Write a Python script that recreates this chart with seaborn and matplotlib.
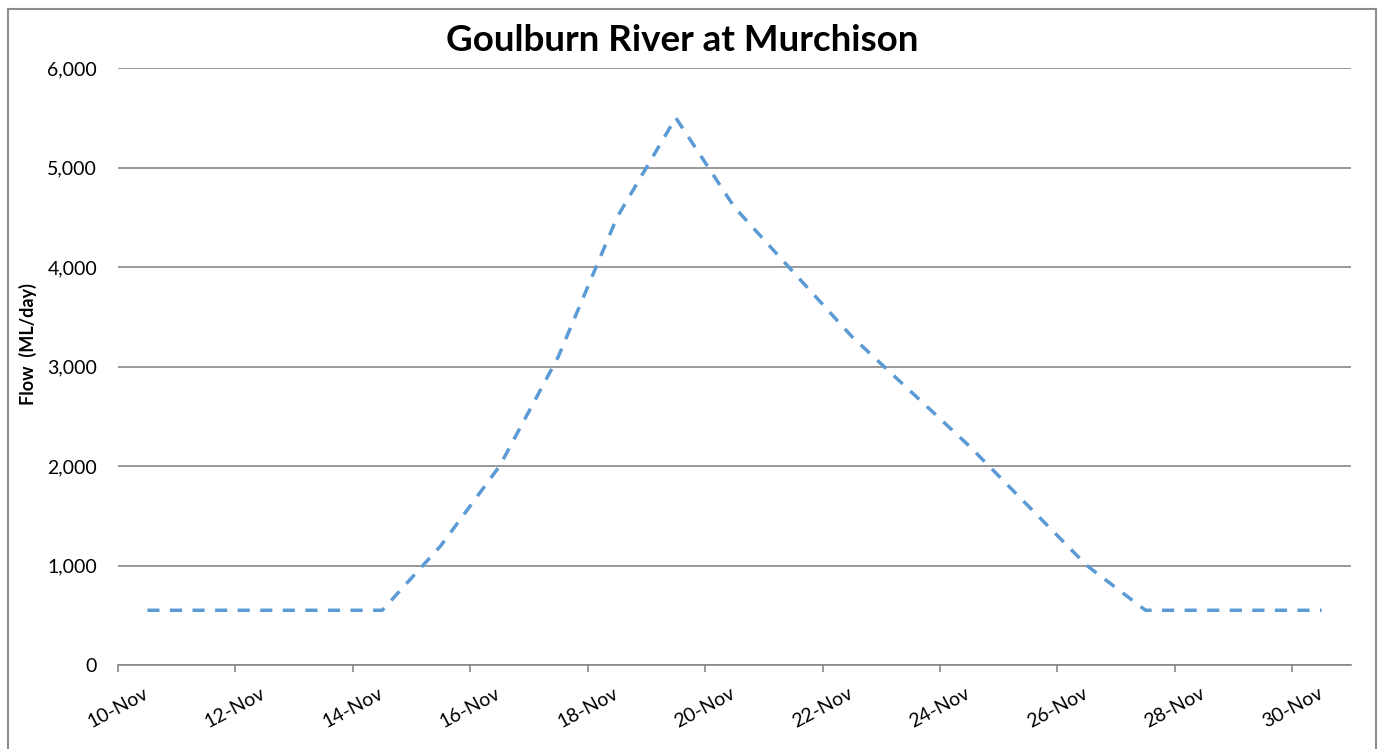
import pandas as pd
import matplotlib
matplotlib.use("Agg")
import matplotlib.pyplot as plt
import matplotlib.dates as mdates
from matplotlib.patches import Rectangle
import seaborn as sns

# daily flow, Goulburn River at Murchison (Nov)
days = list(range(10, 31))
flows = [550, 550, 550, 550, 550, 1200, 2000, 3100, 4500, 5500, 4600,
         3950, 3300, 2750, 2200, 1600, 1000, 550, 550, 550, 550]
title = "Goulburn River at Murchison"
ylabel = "Flow  (ML/day)"
yticks = [0, 1000, 2000, 3000, 4000, 5000, 6000]

sns.set_style("white")
plt.rcParams['font.family'] = ['Lato', 'DejaVu Sans']

# Excel puts points between the tick marks, i.e. at midday
df = pd.DataFrame({
    "date": pd.to_datetime(["2016-11-%02d" % d for d in days]) + pd.Timedelta(hours=12),
    "flow": flows,
})

fig = plt.figure(figsize=(13.8, 7.49), dpi=100)
ax = fig.add_axes([118 / 1380, 84 / 749, 1233 / 1380, 597 / 749])

sns.lineplot(data=df, x="date", y="flow", ax=ax, color="#5B9BD5",
             linewidth=2.5, dashes=False)
ax.lines[0].set_dashes((3.5, 3.0))
ax.lines[0].set_dash_capstyle("butt")

ax.set_xlim(pd.Timestamp("2016-11-10"), pd.Timestamp("2016-12-01"))
ax.set_ylim(0, 6000)
ax.set_yticks(yticks)
ax.yaxis.set_major_formatter(matplotlib.ticker.FuncFormatter(lambda v, p: f"{int(v):,}"))
ax.xaxis.set_major_locator(mdates.DayLocator(bymonthday=range(10, 31, 2)))
ax.xaxis.set_major_formatter(mdates.DateFormatter("%d-%b"))

ax.grid(axis="y", color="#888888", linewidth=1.2)
ax.set_axisbelow(True)
for s in ["left", "right", "top"]:
    ax.spines[s].set_visible(False)
ax.spines["bottom"].set_color("#888888")
ax.spines["bottom"].set_linewidth(1.2)

ax.tick_params(axis="y", length=0, pad=15, labelsize=14, labelcolor="#000000")
ax.tick_params(axis="x", length=5, width=1.2, color="#888888", pad=9,
               labelsize=14, labelcolor="#000000", direction="out", bottom=True)
for lab in ax.get_xticklabels():
    lab.set_rotation(28)
    lab.set_ha("center")
    lab.set_va("top")

ax.set_xlabel("")
ax.set_ylabel("")
fig.text(28 / 1380, 1 - 344 / 749, ylabel, rotation=90, ha="center", va="center",
         fontsize=13, fontweight="bold", color="#000000")
fig.text(682 / 1380, 1 - 51 / 749, title, ha="center", va="baseline",
         fontsize=26.5, fontweight="bold", color="#000000")

fig.add_artist(Rectangle((8 / 1380, -0.02), 1368 / 1380, 740 / 749 + 0.02,
                         transform=fig.transFigure, fill=False,
                         edgecolor="#8c8c8c", linewidth=1.5))

fig.savefig("out.png", dpi=100)
